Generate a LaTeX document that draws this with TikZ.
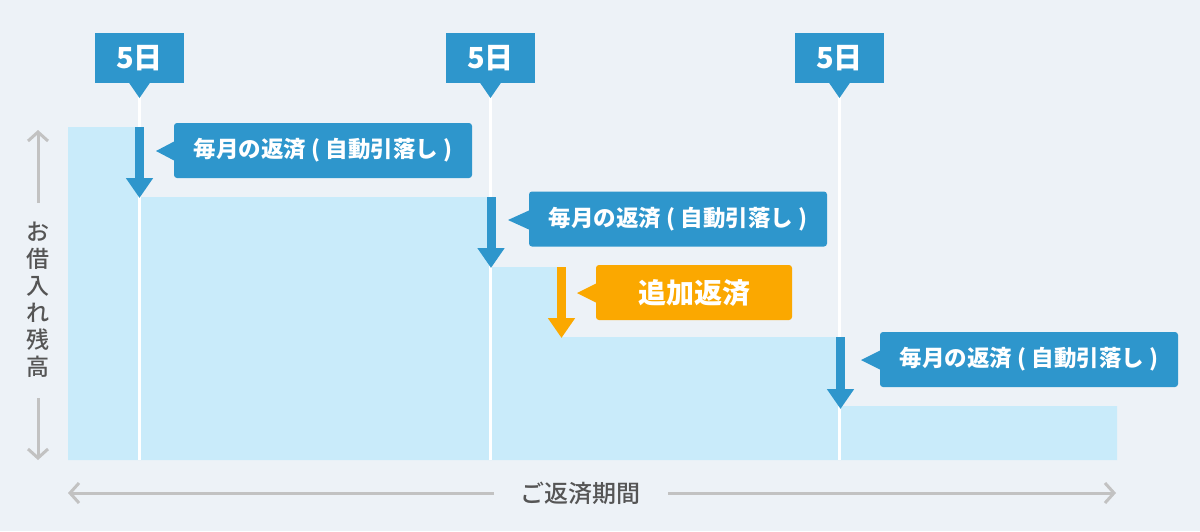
\documentclass[tikz,border=0pt]{standalone}
\usepackage{fontspec}
\setmainfont{Noto Sans CJK JP}
\newfontfamily\jp{Noto Sans CJK JP}
\newfontfamily\jpm{Noto Sans CJK JP Medium}
\usetikzlibrary{arrows.meta}
\definecolor{bg}{HTML}{EDF2F7}
\definecolor{lb}{HTML}{C9EBFA}
\definecolor{bl}{HTML}{2E96CC}
\definecolor{og}{HTML}{FBA800}
\definecolor{gr}{HTML}{C2C2C2}
\definecolor{tg}{HTML}{555555}
\tikzset{
  tab/.style={fill=bl, text=white, minimum width=89pt, minimum height=50pt, inner sep=0pt, font=\jp\bfseries\fontsize{29}{29}\selectfont},
  callout/.style={fill=bl, rounded corners=3pt, text=white, minimum height=55pt, inner sep=0pt, font=\jp\bfseries\fontsize{22.5}{22.5}\selectfont},
  drop/.style={bl, line width=9pt, -{Triangle[width=26pt,length=20pt]}},
  axis/.style={gr, line width=3pt, -{Straight Barb[length=9pt,width=20pt,line width=3pt]}},
  axlabel/.style={text=tg, font=\jpm\fontsize{23}{27}\selectfont, inner sep=0pt},
  vline/.style={white, line width=3pt}
}
\begin{document}
\begin{tikzpicture}[x=1pt,y=-1pt]
\useasboundingbox (0,0) rectangle (1200,531);
\fill[bg] (0,0) rectangle (1200,531);
% staircase
\fill[lb] (68,460) -- (68,127) -- (139.5,127) -- (139.5,197) -- (490.5,197) -- (490.5,267)
  -- (562,267) -- (562,337) -- (839.5,337) -- (839.5,406) -- (1117,406) -- (1117,460) -- cycle;
% white period lines
\draw[vline] (139.5,97) -- (139.5,460);
\draw[vline] (490.5,97) -- (490.5,460);
\draw[vline] (839.5,97) -- (839.5,460);
% tabs
\foreach \n/\x in {t1/139.5, t2/490.5, t3/839.5}{
  \node[tab] (\n) at (\x,58) {5日};
  \fill[bl] (\x-11,82) -- (\x+11,82) -- (\x,98) -- cycle;
}
% drop arrows
\coordinate (a1s) at (139.5,127); \coordinate (a1e) at (139.5,198);
\coordinate (a2s) at (491,197);  \coordinate (a2e) at (491,268);
\coordinate (a3s) at (561.5,267); \coordinate (a3e) at (561.5,338);
\coordinate (a4s) at (840.5,337); \coordinate (a4e) at (840.5,409);
\draw[drop] (a1s) -- (a1e);
\draw[drop] (a2s) -- (a2e);
\draw[drop, og] (a3s) -- (a3e);
\draw[drop] (a4s) -- (a4e);
% callouts
\node[callout, minimum width=298pt] (c1) at (323,150.5) {毎月の返済 ( 自動引落し )};
\fill[bl] (175,141) -- (156,151) -- (175,161) -- cycle;
\node[callout, minimum width=298pt] (c2) at (678,219) {毎月の返済 ( 自動引落し )};
\fill[bl] (530,210) -- (508,220) -- (530,230) -- cycle;
\node[callout, fill=og, minimum width=196pt, font=\jp\bfseries\fontsize{28}{28}\selectfont] (c3) at (694,292.5) {追加返済};
\fill[og] (597,283) -- (577,293) -- (597,303) -- cycle;
\node[callout, minimum width=298pt] (c4) at (1029,359.5) {毎月の返済 ( 自動引落し )};
\fill[bl] (881,350) -- (861,360) -- (881,370) -- cycle;
% vertical axis
\node[axlabel, align=center] (yl) at (38,300) {お\\借\\入\\れ\\残\\高};
\coordinate (yt) at (38,130); \coordinate (yb) at (38,460);
\draw[axis] (38,203) -- (yt);
\draw[axis] (38,398) -- (yb);
% horizontal axis
\node[axlabel, font=\jpm\fontsize{24}{24}\selectfont] (xl) at (580,493) {ご返済期間};
\coordinate (xlft) at (68,493); \coordinate (xrt) at (1116,493);
\draw[axis] (494,493) -- (xlft);
\draw[axis] (668,493) -- (xrt);
\end{tikzpicture}
\end{document}
